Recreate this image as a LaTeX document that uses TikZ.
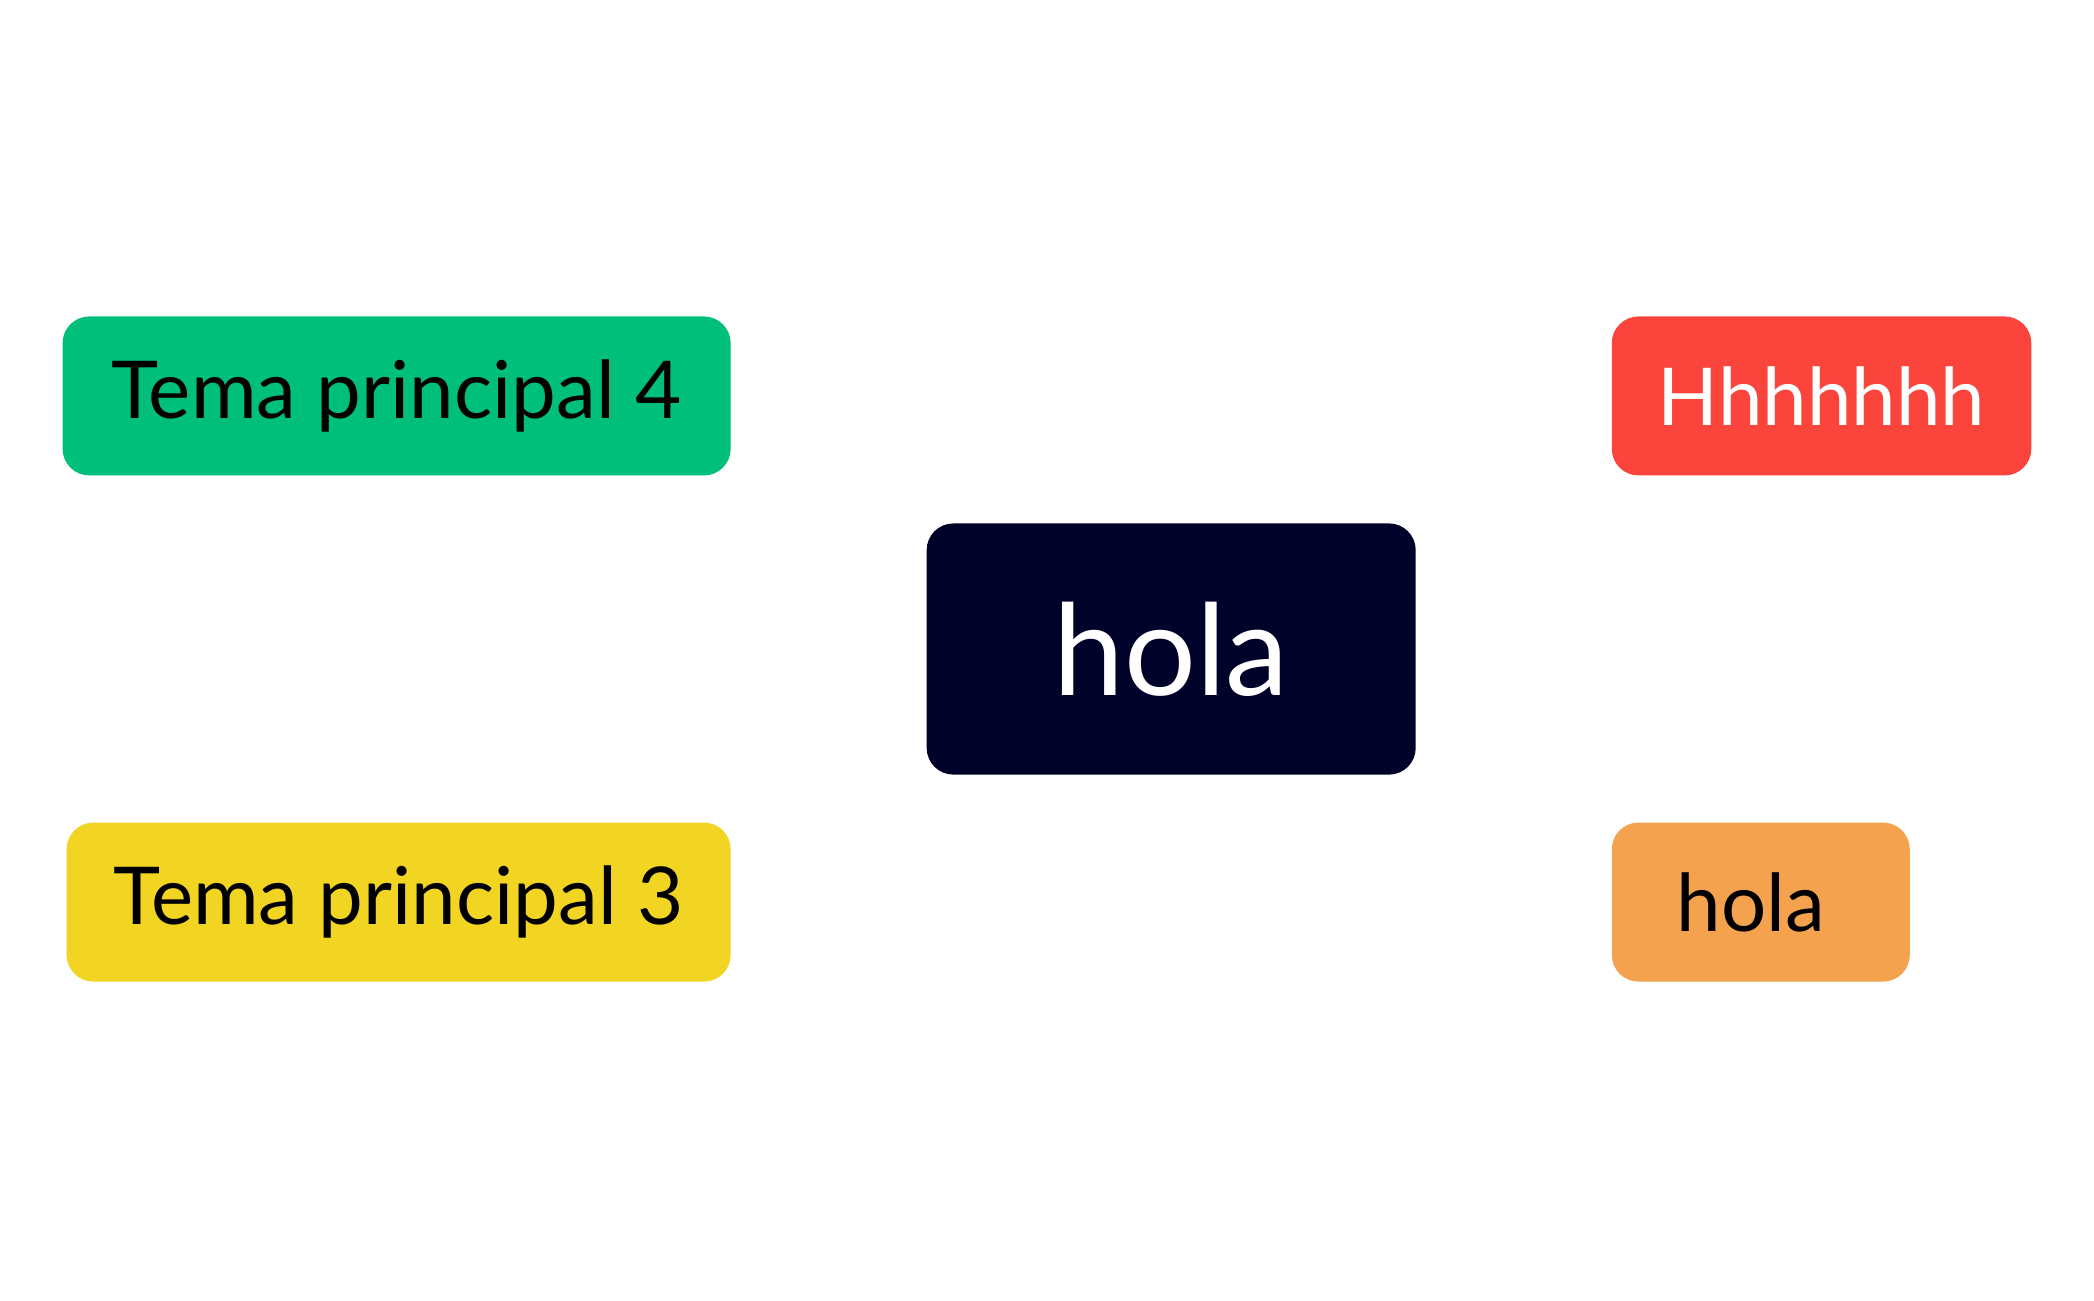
\documentclass[tikz,border=0pt]{standalone}
\usepackage{fontspec}
\setmainfont{Lato}
\usetikzlibrary{calc,backgrounds}
\definecolor{navy}{HTML}{00022A}
\definecolor{cgreen}{HTML}{00BF7A}
\definecolor{cyellow}{HTML}{F2D422}
\definecolor{cred}{HTML}{FA443C}
\definecolor{corange}{HTML}{F5A24E}
\begin{document}
\begin{tikzpicture}[x=0.01cm,y=-0.01cm,
  box/.style={rounded corners=0.2cm,minimum height=1.19cm,inner sep=0pt,font=\fontsize{17}{20}\selectfont},
  link/.style={line width=1.7pt}]
\useasboundingbox[fill=white] (0,0) rectangle (1568,973.5);
\node[box,fill=navy,minimum width=3.66cm,minimum height=1.88cm,text=white,font=\fontsize{27}{30}\selectfont] (c) at (877,486) {hola};
\node[box,fill=cgreen,minimum width=5cm] (t4) at (297,296.5) {Tema principal 4};
\node[box,fill=cyellow,minimum width=4.97cm] (t3) at (298.5,675.5) {Tema principal 3};
\node[box,fill=cred,minimum width=3.14cm,text=white] (h) at (1364,296.5) {Hhhhhhh};
\node[box,fill=corange,minimum width=2.23cm] (o) at (1318.5,675.5) {};
\node[font=\fontsize{17}{20}\selectfont] (ot) at (1311,675.5) {hola};
\begin{scope}[on background layer]
\draw[link,cgreen] (t4.east) .. controls +(110,0) and +(-40,-60) .. ($(c.north west)+(28,0)$);
\draw[link,cyellow] (t3.east) .. controls +(110,0) and +(-40,60) .. ($(c.south west)+(28,0)$);
\draw[link,cred] (h.west) .. controls +(-110,0) and +(40,-60) .. ($(c.north east)+(-28,0)$);
\draw[link,corange] (o.west) .. controls +(-110,0) and +(40,60) .. ($(c.south east)+(-28,0)$);
\end{scope}
\end{tikzpicture}
\end{document}
